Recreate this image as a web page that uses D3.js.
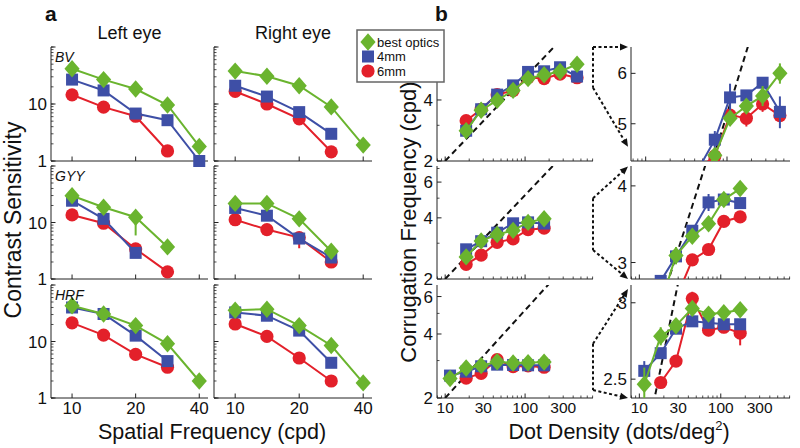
<!DOCTYPE html>
<html><head><meta charset="utf-8">
<script src="https://cdn.jsdelivr.net/npm/d3@7"></script>
<style>body{margin:0;background:#fff}svg{display:block}text{font-family:"Liberation Sans",Arial,Helvetica,sans-serif;fill:#111}</style>
</head><body><svg id="c" width="800" height="448"></svg>
<script>
// ================= DATA =================
const conditions = ["6mm", "4mm", "best optics"];          // drawing order
const legendOrder = ["best optics", "4mm", "6mm"];
const subjects = ["BV", "GYY", "HRF"];
const eyes = ["Left eye", "Right eye"];

// ---- panel a : contrast sensitivity vs spatial frequency ----
const spatialFreq = [10, 14.1, 20, 28.3, 40];
const sfTickLabels = [10, 20, 40];
const csTickLabels = [1, 10];
// left eye
const bvLeftBest  = [41.6, 26.8, 18.3, 9.6, 1.8];
const bvLeft4mm   = [26.8, 17.3, 6.8, 5.2, 1.0];
const bvLeft6mm   = [14.5, 8.8, 6.1, 1.5, null];
const gyyLeftBest = [29.8, 18.6, 12.4, 3.7, null];
const gyyLeft4mm  = [24.3, 11.6, 2.9, null, null];
const gyyLeft6mm  = [13.6, 9.7, 3.4, 1.34, null];
const hrfLeftBest = [42.8, 30.7, 19.1, 9.1, 2.0];
const hrfLeft4mm  = [40.0, 30.7, 12.7, 4.5, null];
const hrfLeft6mm  = [21.4, 13.0, 5.9, 3.5, null];
// right eye
const bvRightBest  = [37.8, 30.7, 20.9, 8.9, 1.9];
const bvRight4mm   = [20.9, 13.5, 7.2, 3.0, null];
const bvRight6mm   = [16.6, 10.0, 5.5, 1.45, null];
const gyyRightBest = [21.8, 21.8, 11.6, 3.1, null];
const gyyRight4mm  = [18.1, 13.2, 5.2, 2.4, null];
const gyyRight6mm  = [11.2, 7.5, 5.4, 2.0, null];
const hrfRightBest = [35.8, 37.3, 19.1, 8.5, 1.85];
const hrfRight4mm  = [32.7, 28.6, 15.6, 4.2, null];
const hrfRight6mm  = [20.4, 12.3, 5.1, 2.0, null];
// error-bar bounds [subject, eye index, condition, sf index, low, high]
const csErrorBars = [
  ["GYY", 0, "best optics", 2, 5.9, 13.5],
  ["BV", 1, "6mm", 2, 4.5, 6.3],
  ["GYY", 1, "6mm", 2, 3.5, 6.0]
];

// ---- panel b : corrugation frequency vs dot density ----
const dotDensity = [11.5, 18.3, 28.2, 44.7, 70.8, 109, 173, 274, 447];
const ddTickLabels = [10, 30, 100, 300];
const bvBest  = [null, 2.82, 3.56, 3.98, 4.46, 5.10, 5.33, 5.53, 6.00];
const bv4mm   = [null, 2.82, 3.60, 4.25, 4.72, 5.50, 5.54, 5.80, 5.22];
const bv6mm   = [null, 3.16, 3.60, 4.25, 4.45, 5.16, 5.10, 5.37, 5.15];
const gyyBest = [null, 2.57, 3.08, 3.31, 3.47, 3.80, 3.96, null, null];
const gyy4mm  = [null, 2.80, 3.07, 3.38, 3.76, 3.80, 3.75, null, null];
const gyy6mm  = [null, 2.36, 2.62, 3.03, 3.15, 3.50, 3.56, null, null];
const hrfBest = [2.47, 2.77, 2.84, 2.96, 2.92, 2.93, 2.95, null, null];
const hrf4mm  = [2.55, 2.66, 2.82, 2.87, 2.86, 2.85, 2.85, null, null];
const hrf6mm  = [null, 2.48, 2.61, 3.03, 2.81, 2.83, 2.79, null, null];
// +/- error (cpd)
const bvBestErr  = [0, 0.03, 0.03, 0.03, 0.10, 0.10, 0.10, 0.20, 0.22];
const bv4mmErr   = [0, 0.03, 0.03, 0.03, 0.15, 0.28, 0.10, 0.12, 0.30];
const bv6mmErr   = [0, 0.03, 0.03, 0.03, 0.10, 0.10, 0.15, 0.15, 0.10];
const gyyBestErr = [0, 0.03, 0.10, 0.08, 0.04, 0.05, 0.05, 0, 0];
const gyy4mmErr  = [0, 0.03, 0.03, 0.03, 0.12, 0.04, 0.04, 0, 0];
const gyy6mmErr  = [0, 0.03, 0.03, 0.03, 0.05, 0.05, 0.08, 0, 0];
const hrfBestErr = [0.10, 0.06, 0.03, 0.03, 0.02, 0.03, 0.05, 0, 0];
const hrf4mmErr  = [0.06, 0.03, 0.03, 0.03, 0.02, 0.02, 0.02, 0, 0];
const hrf6mmErr  = [0, 0.02, 0.03, 0.05, 0.04, 0.04, 0.08, 0, 0];
// sampling-limit (dashed) line, [dots/deg², cpd]
const nyquistLine = [[10, 2.0], [300, 8.15]];
// zoom brackets: value ranges on left and right panels of each row
const zoomLeft  = [[4.6, 7.3], [2.78, 5.0], [2.18, 3.6]];
const zoomRight = [[4.6, 6.6], [2.82, 4.3], [2.39, 3.1]];

// ================= LAYOUT / STYLE =================
const svg = d3.select("#c");
const color = {"best optics": "#6ab42e", "4mm": "#3e4fa6", "6mm": "#e3202a"};
const rowTop = [47, 166, 285], rowBot = [161, 279, 398];
const aCols = [[51, 208], [214, 372]];
const bCols = [[437, 593], [631, 790]];
const axisColor = "#222";

const csData = {
  BV:  [[bvLeftBest, bvLeft4mm, bvLeft6mm], [bvRightBest, bvRight4mm, bvRight6mm]],
  GYY: [[gyyLeftBest, gyyLeft4mm, gyyLeft6mm], [gyyRightBest, gyyRight4mm, gyyRight6mm]],
  HRF: [[hrfLeftBest, hrfLeft4mm, hrfLeft6mm], [hrfRightBest, hrfRight4mm, hrfRight6mm]]
};
const cfData = {
  BV:  [[bvBest, bvBestErr], [bv4mm, bv4mmErr], [bv6mm, bv6mmErr]],
  GYY: [[gyyBest, gyyBestErr], [gyy4mm, gyy4mmErr], [gyy6mm, gyy6mmErr]],
  HRF: [[hrfBest, hrfBestErr], [hrf4mm, hrf4mmErr], [hrf6mm, hrf6mmErr]]
};
const condIndex = {"best optics": 0, "4mm": 1, "6mm": 2};

function marker(g, cond, x, y) {
  const c = color[cond];
  if (cond === "best optics") {
    g.append("path").attr("d", `M${x},${y-8.7}L${x+7.6},${y}L${x},${y+8.7}L${x-7.6},${y}Z`).attr("fill", c);
  } else if (cond === "4mm") {
    g.append("rect").attr("x", x-6).attr("y", y-6).attr("width", 12).attr("height", 12).attr("fill", c);
  } else {
    g.append("circle").attr("cx", x).attr("cy", y).attr("r", 6.6).attr("fill", c);
  }
}

function axes(g, xs, ys, o) {
  const [x0, x1] = xs.range(), [yb, yt] = ys.range();
  g.append("line").attr("x1", x0).attr("x2", x0).attr("y1", yt).attr("y2", yb).attr("stroke", axisColor);
  g.append("line").attr("x1", x0).attr("x2", x1).attr("y1", yb).attr("y2", yb).attr("stroke", axisColor);
  (o.yMinor || []).forEach(v => g.append("line").attr("x1", x0).attr("x2", x0+2.5).attr("y1", ys(v)).attr("y2", ys(v)).attr("stroke", axisColor).attr("stroke-width", 0.8));
  (o.yMajor || []).forEach(v => g.append("line").attr("x1", x0).attr("x2", x0+4.5).attr("y1", ys(v)).attr("y2", ys(v)).attr("stroke", axisColor));
  (o.xMinor || []).forEach(v => g.append("line").attr("y1", yb).attr("y2", yb-2.5).attr("x1", xs(v)).attr("x2", xs(v)).attr("stroke", axisColor).attr("stroke-width", 0.8));
  (o.xMajor || []).forEach(v => g.append("line").attr("y1", yb).attr("y2", yb-4.5).attr("x1", xs(v)).attr("x2", xs(v)).attr("stroke", axisColor));
  (o.yLabels || []).forEach(v => g.append("text").attr("x", x0-4).attr("y", ys(v)).attr("dy", "0.36em")
      .attr("text-anchor", "end").attr("font-size", 17).text(v));
  (o.xLabels || []).forEach(v => g.append("text").attr("x", xs(v)).attr("y", yb + (o.xLabelDy || 16))
      .attr("text-anchor", "middle").attr("font-size", o.xLabelSize || 17).text(v));
}

function logMinor(lo, hi) {
  const out = [];
  for (let d = Math.pow(10, Math.floor(Math.log10(lo))); d <= hi; d *= 10)
    for (let k = 1; k <= 9; k++) { const v = k*d; if (v >= lo && v <= hi) out.push(v); }
  return out;
}

// ================= PANEL A =================
const sfDomain = [7.95, 44];
subjects.forEach((s, r) => {
  eyes.forEach((e, c) => {
    const xs = d3.scaleLog().base(2).domain(sfDomain).range(aCols[c]);
    const ys = d3.scaleLog().domain([1, 100]).range([rowBot[r], rowTop[r]]);
    const g = svg.append("g");
    axes(g, xs, ys, {
      yMinor: logMinor(1, 100), yMajor: [1, 10, 100],
      xMajor: sfTickLabels,
      yLabels: c === 0 ? csTickLabels : [],
      xLabels: r === 2 ? sfTickLabels : []
    });
    conditions.forEach(cond => {
      const vals = csData[s][c][condIndex[cond]];
      const pts = spatialFreq.map((f, i) => [f, vals[i]]).filter(p => p[1] != null);
      g.append("path").attr("d", d3.line().x(p => xs(p[0])).y(p => ys(p[1]))(pts))
        .attr("fill", "none").attr("stroke", color[cond]).attr("stroke-width", 2);
      csErrorBars.filter(eb => eb[0] === s && eb[1] === c && eb[2] === cond).forEach(eb => {
        g.append("line").attr("x1", xs(spatialFreq[eb[3]])).attr("x2", xs(spatialFreq[eb[3]]))
          .attr("y1", ys(eb[4])).attr("y2", ys(eb[5])).attr("stroke", color[cond]).attr("stroke-width", 2);
      });
      pts.forEach(p => marker(g, cond, xs(p[0]), ys(p[1])));
    });
    if (c === 0) g.append("text").attr("x", aCols[0][0]+4).attr("y", rowTop[r]+15)
      .attr("font-size", 14).attr("font-style", "italic").text(s);
  });
});
eyes.forEach((e, c) => svg.append("text").attr("x", (aCols[c][0]+aCols[c][1])/2).attr("y", 39)
  .attr("text-anchor", "middle").attr("font-size", 18).text(e));
svg.append("text").attr("x", 45).attr("y", 21).attr("font-size", 21).attr("font-weight", "bold").text("a");
svg.append("text").attr("x", 435).attr("y", 21).attr("font-size", 21).attr("font-weight", "bold").text("b");
svg.append("text").attr("transform", "translate(21,220) rotate(-90)").attr("text-anchor", "middle")
  .attr("font-size", 23).text("Contrast Sensitivity");
svg.append("text").attr("x", 212).attr("y", 439).attr("text-anchor", "middle").attr("font-size", 21.5)
  .text("Spatial Frequency (cpd)");

// ================= PANEL B =================
// x-domains (left col, right col) per row; top-right view sits slightly further right
const ddDomains = [[[7.9, 708], [6.6, 595]], [[7.9, 708], [7.9, 708]], [[7.9, 708], [7.9, 708]]];
const leftDomains = [[2, 7.3], [2, 7.2], [2, 6.8]];
const rightDomains = [[4.37, 6.6], [2.82, 4.31], [2.39, 3.13]];
const rightTicks = [[5, 6], [3, 4], [2.5, 3]];
const defs = svg.append("defs");
const bScales = [];
subjects.forEach((s, r) => {
  bScales.push([]);
  [0, 1].forEach(c => {
    const xs = d3.scaleLog().domain(ddDomains[r][c]).range(bCols[c]);
    const dom = c === 0 ? leftDomains[r] : rightDomains[r];
    const ys = d3.scaleLog().base(2).domain(dom).range([rowBot[r], rowTop[r]]);
    bScales[r].push(ys);
    const clipId = `clip${r}${c}`;
    defs.append("clipPath").attr("id", clipId).append("rect")
      .attr("x", bCols[c][0]).attr("y", rowTop[r]).attr("width", bCols[c][1]-bCols[c][0]).attr("height", rowBot[r]-rowTop[r]);
    const g = svg.append("g");
    const dd = ddDomains[r][c];
    axes(g, xs, ys, {
      yMajor: c === 0 ? [2, 4, 6] : rightTicks[r],
      yMinor: c === 0 ? [3, 5, 7].filter(v => v <= dom[1]) : [],
      xMajor: [10, 100], xMinor: logMinor(dd[0], dd[1]).filter(v => v !== 10 && v !== 100),
      yLabels: c === 0 ? [2, 4, 6] : rightTicks[r],
      xLabels: r === 2 ? ddTickLabels : [], xLabelSize: 15.5, xLabelDy: 15
    });
    const pg = g.append("g").attr("clip-path", `url(#${clipId})`);
    pg.append("path").attr("d", d3.line().x(p => xs(p[0])).y(p => ys(p[1]))(nyquistLine))
      .attr("fill", "none").attr("stroke", "#111").attr("stroke-width", 2).attr("stroke-dasharray", "6,4");
    conditions.forEach(cond => {
      const [vals, errs] = cfData[s][condIndex[cond]];
      const pts = dotDensity.map((d, i) => [d, vals[i], errs[i]]).filter(p => p[1] != null);
      pg.append("path").attr("d", d3.line().x(p => xs(p[0])).y(p => ys(p[1]))(pts))
        .attr("fill", "none").attr("stroke", color[cond]).attr("stroke-width", 2);
      pts.filter(p => p[2] > 0).forEach(p => pg.append("line").attr("x1", xs(p[0])).attr("x2", xs(p[0]))
        .attr("y1", ys(p[1]-p[2])).attr("y2", ys(p[1]+p[2])).attr("stroke", color[cond]).attr("stroke-width", 2));
      pts.forEach(p => marker(pg, cond, xs(p[0]), ys(p[1])));
    });
  });
});

// zoom brackets (dotted with arrowheads)
function arrowHead(x1, y1, x2, y2) {
  const a = Math.atan2(y2-y1, x2-x1), L = 8, W = 3.5;
  const bx = x2 - L*Math.cos(a), by = y2 - L*Math.sin(a);
  svg.append("path").attr("d", `M${x2},${y2}L${bx - W*Math.sin(a)},${by + W*Math.cos(a)}L${bx + W*Math.sin(a)},${by - W*Math.cos(a)}Z`).attr("fill", "#111");
}
subjects.forEach((s, r) => {
  const yl = bScales[r][0], yr = bScales[r][1];
  const xl = bCols[0][1], xr = bCols[1][0] - 3;
  const [lo, hi] = zoomLeft[r], [rlo, rhi] = zoomRight[r];
  const st = sel => sel.attr("fill", "none").attr("stroke", "#111").attr("stroke-width", 2).attr("stroke-dasharray", "3,2.5");
  svg.append("line").attr("x1", xl).attr("x2", xl).attr("y1", yl(hi)).attr("y2", yl(lo)).call(st);
  [[hi, rhi], [lo, rlo]].forEach(([a, b]) => {
    const x1 = xl, y1 = yl(a), x2 = xr, y2 = yr(b);
    const ang = Math.atan2(y2-y1, x2-x1);
    svg.append("line").attr("x1", x1).attr("y1", y1).attr("x2", x2 - 6*Math.cos(ang)).attr("y2", y2 - 6*Math.sin(ang)).call(st);
    arrowHead(x1, y1, x2, y2);
  });
});

svg.append("text").attr("transform", "translate(416,222) rotate(-90)").attr("text-anchor", "middle")
  .attr("font-size", 22).text("Corrugation Frequency (cpd)");
const dt = svg.append("text").attr("x", 619).attr("y", 439).attr("text-anchor", "middle").attr("font-size", 21.5);
dt.append("tspan").text("Dot Density (dots/deg");
dt.append("tspan").attr("font-size", 13).attr("dy", -9).text("2");
dt.append("tspan").attr("dy", 9).text(")");

// legend
const lg = svg.append("g");
lg.append("rect").attr("x", 357).attr("y", 30).attr("width", 87).attr("height", 52)
  .attr("fill", "#fff").attr("stroke", "#666").attr("stroke-width", 1.5);
legendOrder.forEach((cond, i) => {
  const y = 42 + i*14.5;
  marker(lg, cond, 368, y);
  lg.append("text").attr("x", 377).attr("y", y).attr("dy", "0.35em").attr("font-size", 13).text(cond);
});
</script></body></html>
